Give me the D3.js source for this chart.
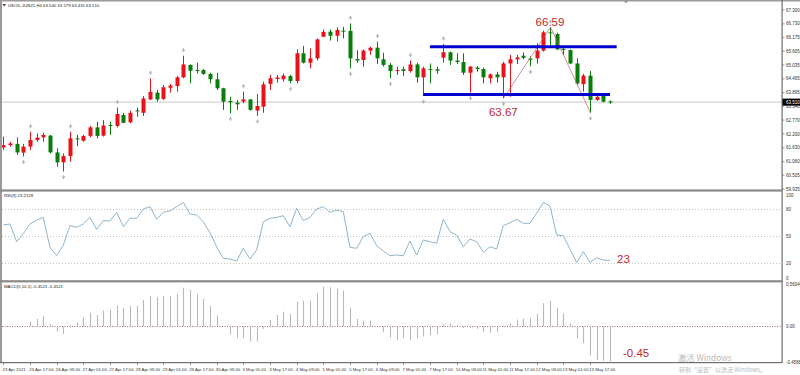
<!doctype html>
<html>
<head>
<meta charset="utf-8">
<script src="https://d3js.org/d3.v7.min.js"></script>
<style>
    body { margin: 0; background: #fff; }
    svg { display: block; font-family: "Liberation Sans", Arial, sans-serif; }
</style>
</head>
<body>
<svg id="chart" width="800" height="375"></svg>
<script>
    // values (USOIL H4)
    var timeLabels = ["23 Apr 2021", "23 Apr 17:00", "26 Apr 09:00", "27 Apr 01:00", "27 Apr 17:00", "28 Apr 09:00",
        "29 Apr 01:00", "29 Apr 17:00", "30 Apr 09:00", "3 May 01:00", "3 May 17:00", "4 May 09:00", "5 May 01:00",
        "5 May 17:00", "6 May 09:00", "7 May 01:00", "7 May 17:00", "10 May 09:00", "11 May 01:00", "11 May 17:00",
        "12 May 09:00", "13 May 01:00", "13 May 17:00"];

    var opens = [61.64, 61.74, 61.79, 61.43, 61.68, 61.95, 62.06, 62.13, 61.44, 61.03,
        61.29, 62.02, 61.92, 62.12, 62.47, 62.13, 62.57, 62.53, 62.98, 62.68,
        63.17, 63.07, 63.62, 63.90, 63.64, 64.10, 64.17, 64.53, 65.04, 64.83,
        64.83, 64.67, 64.45, 64.08, 63.56, 63.49, 63.53, 63.62, 63.16, 63.32,
        64.26, 64.46, 64.45, 64.58, 64.38, 65.52, 65.13, 65.31, 66.20, 66.41,
        66.24, 66.45, 66.44, 65.28, 65.24, 65.63, 65.75, 65.27, 65.04, 64.79,
        64.86, 64.79, 65.06, 64.53, 64.87, 64.86, 65.34, 65.56, 65.22, 65.16,
        64.72, 64.93, 64.87, 64.49, 64.65, 64.53, 65.10, 65.27, 65.42, 65.30,
        65.31, 65.63, 66.38, 66.31, 65.70, 65.65, 65.10, 64.25, 64.60, 63.60,
        63.77, 63.54];
    var highs = [62.09, 61.88, 62.06, 61.79, 62.29, 62.22, 62.25, 62.16, 61.61, 61.40,
        62.29, 62.16, 62.16, 62.53, 62.70, 62.77, 62.70, 63.29, 63.07, 63.16,
        63.28, 63.76, 64.49, 64.01, 64.21, 64.26, 64.58, 65.42, 65.06, 65.13,
        64.87, 64.72, 64.72, 64.10, 63.73, 63.60, 63.94, 63.64, 63.84, 64.35,
        64.63, 64.63, 64.69, 64.63, 65.68, 65.82, 65.72, 66.13, 66.50, 66.50,
        66.59, 66.61, 66.75, 65.65, 65.68, 65.79, 66.00, 65.54, 65.13, 64.97,
        64.97, 65.22, 65.13, 64.97, 65.10, 64.97, 65.90, 65.59, 65.52, 65.52,
        65.00, 64.99, 64.93, 64.69, 64.76, 65.17, 65.45, 65.45, 65.55, 65.40,
        65.93, 66.45, 66.59, 66.37, 65.79, 65.68, 65.31, 64.67, 64.79, 63.76,
        63.84, 63.579];
    var lows = [61.54, 61.68, 61.33, 61.27, 61.54, 61.88, 61.88, 61.40, 60.85, 60.65,
        61.06, 61.70, 61.88, 62.06, 62.02, 62.09, 62.16, 62.47, 62.64, 62.64,
        62.91, 62.94, 63.60, 63.53, 63.60, 63.90, 63.94, 64.49, 64.28, 64.69,
        64.63, 64.28, 64.01, 63.19, 63.05, 63.19, 63.46, 63.16, 62.94, 63.07,
        64.01, 64.31, 64.35, 64.28, 64.28, 65.10, 64.90, 65.22, 66.18, 66.04,
        66.00, 66.13, 64.90, 65.13, 64.97, 65.45, 65.08, 64.97, 64.49, 64.63,
        64.58, 64.72, 64.31, 63.76, 64.28, 64.67, 65.13, 65.04, 65.08, 64.63,
        63.90, 64.76, 64.28, 64.28, 64.31, 63.67, 63.73, 65.08, 65.27, 64.98,
        65.10, 65.59, 65.86, 65.65, 65.45, 65.08, 64.21, 63.94, 63.07, 63.57,
        63.50, 63.431];
    var closes = [61.74, 61.81, 61.44, 61.68, 61.95, 62.05, 62.16, 61.44, 61.03, 61.29,
        62.02, 61.98, 62.12, 62.47, 62.12, 62.55, 62.54, 63.02, 62.66, 63.07,
        63.14, 63.66, 63.93, 63.62, 64.12, 64.19, 64.53, 65.06, 64.80, 64.79,
        64.67, 64.45, 64.08, 63.53, 63.50, 63.42, 63.62, 63.19, 63.35, 64.24,
        64.49, 64.52, 64.60, 64.38, 65.52, 65.13, 65.31, 66.09, 66.40, 66.24,
        66.48, 66.41, 65.31, 65.22, 65.63, 65.75, 65.31, 65.04, 64.79, 64.83,
        64.79, 65.06, 64.53, 64.90, 64.84, 64.80, 65.56, 65.22, 65.16, 64.72,
        64.97, 64.87, 64.53, 64.65, 64.53, 65.10, 65.27, 65.35, 65.33, 65.25,
        65.63, 66.38, 66.34, 65.68, 65.67, 65.10, 64.28, 64.60, 63.60, 63.73,
        63.53, 63.510];

    var rsi = [62.6, 63.7, 44.0, 53.0, 63.7, 68.0, 71.0, 37.7, 28.5, 40.3,
        61.8, 60.0, 63.7, 71.0, 57.7, 67.4, 67.0, 76.7, 60.7, 70.0,
        70.0, 80.3, 82.9, 68.9, 76.7, 78.1, 82.9, 87.8, 74.8, 73.7,
        66.2, 54.0, 38.4, 25.5, 24.8, 22.6, 36.7, 24.8, 34.8, 66.2,
        70.0, 71.0, 72.9, 60.7, 81.1, 67.4, 71.0, 80.3, 82.9, 76.7,
        79.2, 77.3, 37.7, 36.7, 49.6, 53.3, 39.6, 33.7, 28.5, 29.2,
        28.5, 44.8, 29.2, 45.9, 44.0, 42.2, 69.2, 55.1, 51.4, 38.4,
        47.0, 44.0, 32.2, 38.4, 35.9, 61.8, 65.1, 68.9, 64.4, 64.4,
        75.6, 87.8, 83.7, 51.4, 50.7, 35.9, 20.7, 32.9, 21.1, 26.2,
        23.7, 23.2];

    var macd = [0.004, 0.006, -0.003, 0.002, 0.062, 0.097, 0.135, 0.032, -0.067, -0.097,
        0.019, 0.049, 0.114, 0.178, 0.148, 0.204, 0.213, 0.268, 0.243, 0.264,
        0.264, 0.341, 0.393, 0.376, 0.393, 0.393, 0.419, 0.500, 0.470, 0.419,
        0.354, 0.264, 0.140, 0.003, -0.101, -0.152, -0.152, -0.195, -0.195, -0.032,
        0.084, 0.148, 0.191, 0.161, 0.320, 0.333, 0.333, 0.427, 0.513, 0.505,
        0.492, 0.462, 0.243, 0.097, 0.075, 0.075, 0.003, -0.075, -0.144, -0.174,
        -0.152, -0.174, -0.152, -0.130, -0.110, -0.100, 0.030, 0.040, 0.020, -0.020,
        -0.020, -0.030, -0.070, -0.080, -0.070, 0.010, 0.040, 0.090, 0.100, 0.110,
        0.160, 0.300, 0.330, 0.240, 0.170, 0.040, -0.152, -0.217, -0.376, -0.432,
        -0.445, -0.4521];

    var fractalUp = [4, 10, 17, 22, 27, 36, 52, 56, 61, 66, 82];
    var fractalDown = [3, 9, 34, 38, 43, 52, 58, 63, 70, 75, 79, 88];
    var zigzag = [75, 82, 88];

    var channelLevels = [65.79, 63.82];
    var channelStart = [64, 63];
    var channelEnd = [92, 91];

    var priceTicks = [67.300, 66.730, 66.175, 65.605, 65.035, 64.465, 63.895, 63.340, 62.770, 62.200, 61.630, 61.060, 60.505, 59.935];
    var rsiTicks = [100, 80, 50, 20, 0];
    var rsiLevels = [80, 50, 20];
    var macdTicks = [0.5604, 0, -0.4588];
    var lastPrice = 63.510;

    var header = "USOIL.JUN21,H4  63.540 63.579 63.431 63.510";
    var rsiHeader = "RSI(3) 23.2128";
    var macdHeader = "MACD(5,10,1) -0.4521 -0.4521";

    var svg = d3.select("#chart");
    var right = 782;
    var red = "#e8121a", green = "#0a7d0a", note = "#c0272d";

    var x = d3.scaleLinear().domain([0, 91]).range([3.3, 610]);
    var yP = d3.scaleLinear().domain([59.935, 67.3]).range([189, 10]);
    var yR = d3.scaleLinear().domain([0, 100]).range([281.3, 191.3]);
    var yM = d3.scaleLinear().domain([-0.4588, 0.5604]).range([362, 283]);
    function px(i) { return Math.round(x(i)) + 0.5; }

    svg.append("rect").attr("width", 800).attr("height", 375).attr("fill", "#fff");

    // grid / reference lines
    svg.append("line").attr("x1", 2).attr("x2", right).attr("y1", yP(lastPrice)).attr("y2", yP(lastPrice))
        .attr("stroke", "#c8c8c8").attr("stroke-width", 1);

    svg.append("g").selectAll("line").data(rsiLevels).enter().append("line")
        .attr("x1", 2).attr("x2", right)
        .attr("y1", function(d) { return Math.round(yR(d)) + 0.5; })
        .attr("y2", function(d) { return Math.round(yR(d)) + 0.5; })
        .attr("stroke", "#c4c4c4").attr("stroke-dasharray", "1,2");

    svg.append("line").attr("x1", 2).attr("x2", right)
        .attr("y1", Math.round(yM(0)) + 0.5).attr("y2", Math.round(yM(0)) + 0.5)
        .attr("stroke", "#b06a6a").attr("stroke-dasharray", "1,1.5");

    // candles
    var idx = d3.range(opens.length);
    var cg = svg.append("g");
    cg.selectAll("line").data(idx).enter().append("line")
        .attr("x1", px).attr("x2", px)
        .attr("y1", function(i) { return yP(highs[i]); })
        .attr("y2", function(i) { return yP(lows[i]); })
        .attr("stroke", function(i) { return closes[i] >= opens[i] ? red : green; })
        .attr("stroke-width", 1);
    cg.selectAll("rect").data(idx).enter().append("rect")
        .attr("x", function(i) { return px(i) - 2; })
        .attr("width", 4)
        .attr("y", function(i) { return Math.min(yP(opens[i]), yP(closes[i])); })
        .attr("height", function(i) { return Math.max(1, Math.abs(yP(opens[i]) - yP(closes[i]))); })
        .attr("fill", function(i) { return closes[i] >= opens[i] ? red : green; });

    // fractal arrows
    svg.append("g").selectAll("path").data(fractalUp).enter().append("path")
        .attr("d", "M-1.6,1.6L0,-1.2L1.6,1.6M0,-1.2V2.5")
        .attr("transform", function(i) { return "translate(" + px(i) + "," + (yP(highs[i]) - 6) + ")"; })
        .attr("fill", "none").attr("stroke", "#a2a2a2").attr("stroke-width", 0.7);
    svg.append("g").selectAll("path").data(fractalDown).enter().append("path")
        .attr("d", "M-1.6,-1.6L0,1.2L1.6,-1.6M0,1.2V-2.5")
        .attr("transform", function(i) { return "translate(" + px(i) + "," + (yP(lows[i]) + 6) + ")"; })
        .attr("fill", "none").attr("stroke", "#a2a2a2").attr("stroke-width", 0.7);

    // zigzag leg
    svg.append("path")
        .datum(zigzag)
        .attr("d", d3.line()
            .x(function(i) { return px(i); })
            .y(function(i, n) { return n % 2 === 0 ? yP(lows[i]) : yP(highs[i]); }))
        .attr("fill", "none").attr("stroke", "#c06060").attr("stroke-width", 0.7);

    // channel
    svg.append("g").selectAll("line").data(channelLevels).enter().append("line")
        .attr("x1", function(d, n) { return x(channelStart[n]); })
        .attr("x2", function(d, n) { return x(channelEnd[n]); })
        .attr("y1", function(d) { return yP(d); })
        .attr("y2", function(d) { return yP(d); })
        .attr("stroke", "#0000d2").attr("stroke-width", 3);

    // RSI line
    svg.append("path").datum(rsi)
        .attr("d", d3.line().x(function(d, i) { return x(i); }).y(function(d) { return yR(d); }))
        .attr("fill", "none").attr("stroke", "#8fb5cc").attr("stroke-width", 1);

    // MACD histogram
    svg.append("g").selectAll("line").data(macd).enter().append("line")
        .attr("x1", function(d, i) { return px(i); })
        .attr("x2", function(d, i) { return px(i); })
        .attr("y1", yM(0))
        .attr("y2", function(d) { return yM(d); })
        .attr("stroke", "#b8b8b8").attr("stroke-width", 1.1);

    // frames and separators
    svg.append("rect").attr("x", 0).attr("y", 0).attr("width", 800).attr("height", 1.5).attr("fill", "#9a9a9a");
    svg.append("rect").attr("x", 0).attr("y", 0).attr("width", 2).attr("height", 363).attr("fill", "#9a9a9a");
    [190.5, 281.3].forEach(function(v) {
        svg.append("rect").attr("x", 0).attr("y", v - 1.1).attr("width", right).attr("height", 2.2).attr("fill", "#8a8a8a");
    });
    svg.append("rect").attr("x", 0).attr("y", 362).attr("width", right).attr("height", 1.2).attr("fill", "#6f6f6f");
    svg.append("rect").attr("x", right - 0.5).attr("y", 0).attr("width", 1.2).attr("height", 363).attr("fill", "#6f6f6f");
    svg.append("path").attr("d", "M623.5,0.5L628.5,0.5L626,3.5Z").attr("fill", "#9a9a9a");

    // right axes
    var ax = svg.append("g").attr("font-size", 4.5).attr("fill", "#333");
    ax.selectAll("text.p").data(priceTicks).enter().append("text")
        .attr("x", right + 4).attr("y", function(d) { return yP(d); })
        .attr("dy", "0.35em").text(d3.format(".3f"));
    ax.selectAll("line.p").data(priceTicks).enter().append("line")
        .attr("x1", right).attr("x2", right + 2.5)
        .attr("y1", function(d) { return yP(d); }).attr("y2", function(d) { return yP(d); })
        .attr("stroke", "#555").attr("stroke-width", 0.6);
    ax.append("rect").attr("x", right + 0.5).attr("y", yP(lastPrice) - 3.5).attr("width", 17.5).attr("height", 7).attr("fill", "#000");
    ax.append("text").attr("x", right + 4).attr("y", yP(lastPrice)).attr("dy", "0.35em")
        .attr("fill", "#fff").text(d3.format(".3f")(lastPrice));

    ax.selectAll("text.r").data(rsiTicks).enter().append("text")
        .attr("x", right + 4)
        .attr("y", function(d) { return Math.min(278.3, Math.max(195, yR(d))); })
        .attr("dy", "0.35em").text(function(d) { return d; });
    ax.selectAll("text.m").data(macdTicks).enter().append("text")
        .attr("x", right + 4)
        .attr("y", function(d) { return Math.min(362.7, Math.max(284.5, yM(d))); })
        .attr("dy", "0.35em").text(function(d) { return d === 0 ? "0.00" : d; });

    // time axis
    var tg = svg.append("g").attr("font-size", 4.3).attr("fill", "#333");
    tg.selectAll("text").data(timeLabels).enter().append("text")
        .attr("x", function(d, n) { return x(n * 4) - 0.8; })
        .attr("y", 370.5).text(function(d) { return d; });
    tg.selectAll("line").data(timeLabels).enter().append("line")
        .attr("x1", function(d, n) { return px(n * 4); }).attr("x2", function(d, n) { return px(n * 4); })
        .attr("y1", 363).attr("y2", 365).attr("stroke", "#555").attr("stroke-width", 0.6);

    // window headers
    svg.append("path").attr("d", "M2.5,4L6,4L4.25,6.5Z").attr("fill", "#444");
    svg.append("text").attr("x", 8).attr("y", 6.8).attr("font-size", 4.3).attr("fill", "#222").text(header);
    svg.append("text").attr("x", 4).attr("y", 197).attr("font-size", 4.3).attr("fill", "#222").text(rsiHeader);
    svg.append("text").attr("x", 4).attr("y", 288).attr("font-size", 4.3).attr("fill", "#222").text(macdHeader);

    // red annotations
    var ng = svg.append("g").attr("font-size", 11.5).attr("fill", note);
    ng.append("text").attr("x", x(82)).attr("y", yP(highs[82]) - 1.2).attr("text-anchor", "middle").text("66.59");
    ng.append("text").attr("x", x(75)).attr("y", yP(lows[75]) + 18).attr("text-anchor", "middle").text("63.67");
    ng.append("text").attr("x", x(91) + 7).attr("y", yR(rsi[91]) + 2.8).text("23");
    ng.append("text").attr("x", x(91) + 13).attr("y", yM(macd[91]) - 4.5).text("-0.45");

    // activation watermark
    var wm = svg.append("g").attr("fill", "#b9b9b9").attr("font-family", "'Noto Sans CJK SC', 'Liberation Sans', sans-serif");
    wm.append("text").attr("x", 678).attr("y", 361).attr("font-size", 8.3).text("激活 Windows");
    wm.append("text").attr("x", 679).attr("y", 371.5).attr("font-size", 6).text("转到“设置”以激活 Windows。");
</script>
</body>
</html>
